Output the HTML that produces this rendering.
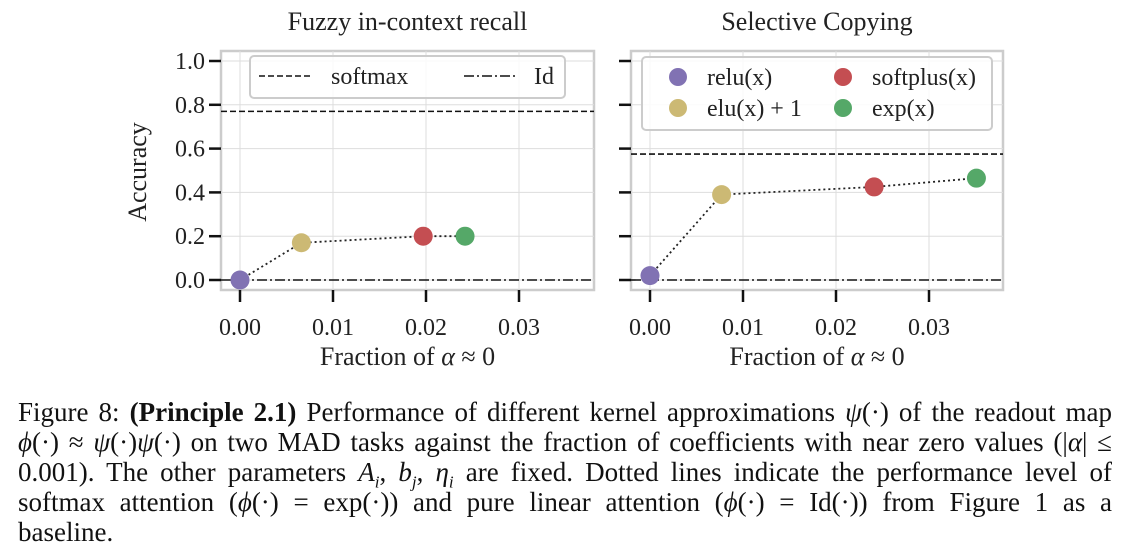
<!DOCTYPE html>
<html><head><meta charset="utf-8"><style>
body{margin:0;width:1129px;height:558px;background:#fff;overflow:hidden;font-family:"Liberation Serif",serif;}
svg{position:absolute;left:0;top:0;}
.cap{position:absolute;left:18px;width:1094px;font-size:27px;line-height:30px;color:#111;}
.cap div{text-align:justify;text-align-last:justify;white-space:nowrap;height:30px;overflow:visible;}
.cap div.last{text-align-last:left;}
i{font-style:italic;}
sub{font-size:17px;line-height:0;}
</style></head><body>
<svg id="chart" width="1129" height="390" font-family="Liberation Serif, serif"></svg>
<div class="cap" style="top:397px">
<div style="white-space:normal">Figure 8: <b>(Principle 2.1)</b> Performance of different kernel approximations <i>ψ</i>(·) of the readout map</div>
<div style="white-space:normal"><i>ϕ</i>(·) ≈ <i>ψ</i>(·)<i>ψ</i>(·) on two MAD tasks against the fraction of coefficients with near zero values (|<i>α</i>| ≤</div>
<div style="white-space:normal">0.001). The other parameters <i>A<sub>i</sub></i>, <i>b<sub>j</sub></i>, <i>η<sub>i</sub></i> are fixed. Dotted lines indicate the performance level of</div>
<div style="white-space:normal">softmax attention (<i>ϕ</i>(·) = exp(·)) and pure linear attention (<i>ϕ</i>(·) = Id(·)) from Figure 1 as a</div>
<div class="last">baseline.</div>
</div>
<script>
const xTicks=[0,0.01,0.02,0.03];
const yTicks=[0,0.2,0.4,0.6,0.8,1.0];
const names=["relu(x)","elu(x) + 1","softplus(x)","exp(x)"];
const colors=["#8172b3","#ccb974","#c44e52","#55a868"];
const fuzzyX=[0,0.0066,0.0197,0.0242];
const fuzzyY=[0,0.17,0.2,0.2];
const copyX=[0,0.0077,0.0241,0.0351];
const copyY=[0.02,0.39,0.425,0.465];
const softmaxLvl=[0.77,0.575];
const idLvl=[0,0];
const titles=["Fuzzy in-context recall","Selective Copying"];
const svg=document.getElementById('chart');
const NS="http://www.w3.org/2000/svg";
function mk(t,a,p){const e=document.createElementNS(NS,t);for(const k in a)e.setAttribute(k,a[k]);(p||svg).appendChild(e);return e;}
const panels=[{x0:240,left:221,right:594,xs:fuzzyX,ys:fuzzyY},{x0:650,left:631,right:1003,xs:copyX,ys:copyY}];
panels.forEach((p,pi)=>{
 const g=mk('g',{});
 
 
 const X=v=>p.x0+v*9300, Y=v=>280-v*219;
 const top=51,bot=290;
 mk('rect',{x:p.left,y:top,width:p.right-p.left,height:bot-top,fill:'#fff',stroke:'#ccc','stroke-width':2.5},g);
 yTicks.forEach(t=>{mk('line',{x1:p.left,x2:p.right,y1:Y(t),y2:Y(t),stroke:'#ddd','stroke-width':1},g);
  mk('line',{x1:p.left-12,x2:p.left,y1:Y(t),y2:Y(t),stroke:'#111','stroke-width':2.5},g);
  if(pi==0){const tx=mk('text',{x:p.left-16,y:Y(t)+8,'text-anchor':'end','font-size':24,fill:'#222'},g);tx.textContent=t.toFixed(1);}});
 xTicks.forEach(t=>{mk('line',{x1:X(t),x2:X(t),y1:top,y2:bot,stroke:'#ddd','stroke-width':1},g);
  mk('line',{x1:X(t),x2:X(t),y1:bot,y2:bot+12,stroke:'#111','stroke-width':2.5},g);
  const tx=mk('text',{x:X(t),y:bot+45,'text-anchor':'middle','font-size':24,fill:'#222'},g);tx.textContent=t.toFixed(2);});
 mk('line',{x1:p.left,x2:p.right,y1:Y(softmaxLvl[pi]),y2:Y(softmaxLvl[pi]),stroke:'#111','stroke-width':1.6,'stroke-dasharray':'6,3'},g);
 mk('line',{x1:p.left,x2:p.right,y1:Y(idLvl[pi]),y2:Y(idLvl[pi]),stroke:'#111','stroke-width':1.6,'stroke-dasharray':'10,3,2,3'},g);
 mk('polyline',{points:p.xs.map((v,i)=>X(v)+','+Y(p.ys[i])).join(' '),fill:'none',stroke:'#222','stroke-width':1.8,'stroke-dasharray':'2,3'},g);
 p.xs.forEach((v,i)=>{const c=mk('circle',{cx:X(v),cy:Y(p.ys[i]),r:9.5,fill:colors[i]},g);
  
  });
 const tt=mk('text',{x:(p.left+p.right)/2,y:30,'text-anchor':'middle','font-size':26,fill:'#222'},g);tt.textContent=titles[pi];
 const xl=mk('text',{x:(p.left+p.right)/2,y:365,'text-anchor':'middle','font-size':26,fill:'#222'},g);
 xl.innerHTML='Fraction of <tspan font-style="italic">α</tspan> ≈ 0';
});
const yl=mk('text',{x:0,y:0,transform:'translate(146,172) rotate(-90)','text-anchor':'middle','font-size':26,fill:'#222'});
yl.textContent='Accuracy';


const l1=mk('g',{});


mk('rect',{x:250,y:56,width:315,height:42,rx:4,fill:'#fff','fill-opacity':0.85,stroke:'#ccc','stroke-width':2},l1);
mk('line',{x1:259,x2:311,y1:76,y2:76,stroke:'#111','stroke-width':1.6,'stroke-dasharray':'6,3'},l1);
let t=mk('text',{x:331,y:84,'font-size':24,fill:'#222'},l1);t.textContent='softmax';
mk('line',{x1:464,x2:516,y1:76,y2:76,stroke:'#111','stroke-width':1.6,'stroke-dasharray':'10,3,2,3'},l1);
t=mk('text',{x:534,y:84,'font-size':24,fill:'#222'},l1);t.textContent='Id';
const l2=mk('g',{});


mk('rect',{x:642,y:57,width:350,height:73,rx:4,fill:'#fff','fill-opacity':0.85,stroke:'#ccc','stroke-width':2},l2);
const pos=[[678,77],[678,108],[843,77],[843,108]];
names.forEach((n,i)=>{mk('circle',{cx:pos[i][0],cy:pos[i][1],r:9,fill:colors[i]},l2);
 const tx=mk('text',{x:pos[i][0]+29,y:pos[i][1]+8,'font-size':24,fill:'#222'},l2);tx.textContent=n;});
</script>
</body></html>
